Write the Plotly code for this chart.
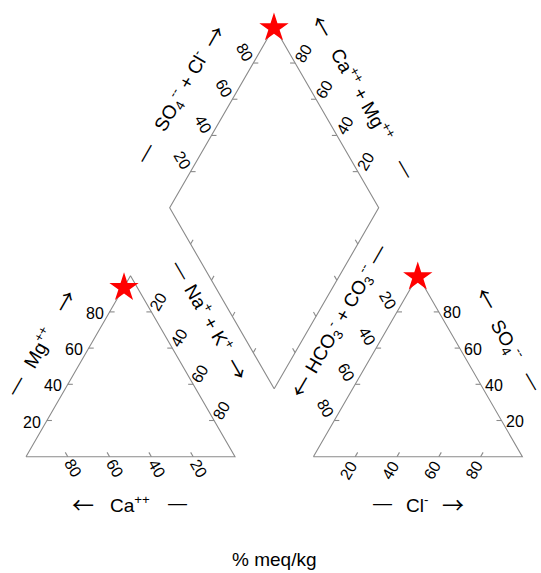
import math
import plotly.graph_objects as go

# sample composition, % meq/kg
ca = [6.4]
mg = [93.4]
na_k = [0.2]
hco3 = [0.4]
cl = [0.3]
so4 = [99.3]

tick_values = [20, 40, 60, 80]

FONT = "Liberation Sans, Arial, sans-serif"
ARROW_FONT = "Noto Sans CJK JP, DejaVu Sans, sans-serif"
LINE = "#8a8a8a"
GAP = 37.5          # gap between the two triangles (units, side = 100)
H = math.sqrt(3) / 2
TICK = 2.4
SCALE = 2.09        # px per unit


def add(p, q):
    return (p[0] + q[0], p[1] + q[1])


def lerp(p0, p1, t):
    return (p0[0] + t * (p1[0] - p0[0]), p0[1] + t * (p1[1] - p0[1]))


# vertices
CA_V, NA_V, MG_V = (0, 0), (100, 0), (50, 100 * H)
HCO3_V, CL_V, SO4_V = (100 + GAP, 0), (200 + GAP, 0), (150 + GAP, 100 * H)
D_B = (100 + GAP / 2, GAP * H)
D_L = add(D_B, (-50, 100 * H))
D_R = add(D_B, (50, 100 * H))
D_T = add(D_L, (50, 100 * H))

# outlines
xs, ys = [], []
for poly in [[CA_V, NA_V, MG_V, CA_V], [HCO3_V, CL_V, SO4_V, HCO3_V],
             [D_B, D_L, D_T, D_R, D_B]]:
    xs += [p[0] for p in poly] + [None]
    ys += [p[1] for p in poly] + [None]

# axes: start (0%), end (100%), tick direction, label angle, label shift
axes = [
    (NA_V, CA_V, (-0.5, H), 60, (5.5, -11.6), True),      # Ca
    (CA_V, MG_V, (1, 0), 0, (-15, -1.5), True),           # Mg
    (MG_V, NA_V, (-1, 0), -60, (7, 10.5), True),          # Na + K
    (HCO3_V, CL_V, (0.5, H), -60, (-6.9, -13.3), True),   # Cl
    (CL_V, SO4_V, (-1, 0), 0, (13.5, -1), True),          # SO4
    (SO4_V, HCO3_V, (1, 0), 60, (-9, 11.7), True),        # HCO3 + CO3
    (D_L, D_T, (1, 0), 60, (-8.3, 10.9), True),           # SO4 + Cl
    (D_R, D_T, (-1, 0), -60, (8, 10), True),              # Ca + Mg
    (D_L, D_B, (0.5, H), 0, (0, 0), False),
    (D_R, D_B, (-0.5, H), 0, (0, 0), False),
]

annotations = []
for p0, p1, tdir, ang, shift, labelled in axes:
    for v in tick_values:
        p = lerp(p0, p1, v / 100)
        q = (p[0] + TICK * tdir[0], p[1] + TICK * tdir[1])
        xs += [p[0], q[0], None]
        ys += [p[1], q[1], None]
        if labelled:
            annotations.append(dict(
                x=p[0], y=p[1], xshift=shift[0], yshift=shift[1], text=str(v),
                textangle=ang, showarrow=False, font=dict(size=16, color="black", family=FONT),
            ))


def edge_text(p0, p1, normal, t, n, text, angle):
    x, y = lerp(p0, p1, t)
    arrow = text in ("→", "←")
    return dict(x=x, y=y, xshift=n * normal[0], yshift=n * normal[1], text=text,
                textangle=angle, showarrow=False,
                font=dict(size=22 if arrow else 19, color="black",
                          family=ARROW_FONT if arrow else FONT))


OUT_L, OUT_R, OUT_D = (-H, 0.5), (H, 0.5), (0, -1)
titles = [
    (CA_V, MG_V, OUT_L, -60, [(0.27, 45, "—"), (0.48, 44.5, "Mg<sup>++</sup>"), (0.74, 45, "→")]),
    (MG_V, NA_V, OUT_R, 60, [(0.10, 47, "—"), (0.36, 47, "Na<sup>+</sup> + K<sup>+</sup>"), (0.64, 47, "→")]),
    (CA_V, NA_V, OUT_D, 0, [(0.273, 46, "←"), (0.498, 47, "Ca<sup>++</sup>"), (0.727, 46, "—")]),
    (HCO3_V, SO4_V, OUT_L, -60, [(0.265, 47, "←"),
                                 (0.637, 45, "HCO<sub>3</sub><sup>-</sup> + CO<sub>3</sub><sup>--</sup>"),
                                 (0.99, 47, "—")]),
    (SO4_V, CL_V, OUT_R, 60, [(0.26, 49.5, "←"), (0.48, 45, "SO<sub>4</sub><sup>--</sup>"), (0.712, 47, "—")]),
    (HCO3_V, CL_V, OUT_D, 0, [(0.329, 46, "—"), (0.496, 47, "Cl<sup>-</sup>"), (0.668, 46, "→")]),
    (D_L, D_T, OUT_L, -60, [(0.17, 48.5, "—"), (0.51, 48.5, "SO<sub>4</sub><sup>--</sup> + Cl<sup>-</sup>"),
                            (0.815, 48.5, "→")]),
    (D_T, D_R, OUT_R, 60, [(0.115, 43, "←"), (0.49, 43, "Ca<sup>++</sup> + Mg<sup>++</sup>"), (0.9, 43, "—")]),
]
for p0, p1, normal, ang, parts in titles:
    for t, n, text in parts:
        annotations.append(edge_text(p0, p1, normal, t, n, text, ang))

annotations.append(dict(
    x=D_B[0], y=(573 - 559) / 573, yref="paper", yanchor="middle", text="% meq/kg",
    showarrow=False, font=dict(size=19, color="black", family=FONT),
))

# sample positions
cat_x, cat_y, an_x, an_y, dia_x, dia_y = [], [], [], [], [], []
for c, m, n, h, l, s in zip(ca, mg, na_k, hco3, cl, so4):
    tc, ta = c + m + n, h + l + s
    cat_x.append(100 * (n + m / 2) / tc)
    cat_y.append(100 * H * m / tc)
    an_x.append(HCO3_V[0] + 100 * (l + s / 2) / ta)
    an_y.append(100 * H * s / ta)
    cm, sc = (c + m) / tc, (s + l) / ta
    dia_x.append(D_B[0] + cm * (D_L[0] - D_B[0]) + sc * (D_R[0] - D_B[0]))
    dia_y.append(D_B[1] + cm * (D_L[1] - D_B[1]) + sc * (D_R[1] - D_B[1]))

fig = go.Figure()
fig.add_trace(go.Scatter(x=xs, y=ys, mode="lines", line=dict(color=LINE, width=1.1),
                         hoverinfo="skip"))
fig.add_trace(go.Scatter(
    x=cat_x + an_x + dia_x, y=cat_y + an_y + dia_y, mode="markers",
    marker=dict(symbol="star", size=22, color="#ff0000", line=dict(width=0)),
))

fig.update_layout(
    width=541, height=573, margin=dict(l=0, r=0, t=0, b=0),
    paper_bgcolor="white", plot_bgcolor="white", showlegend=False,
    annotations=annotations,
)
fig.update_xaxes(range=[-26 / SCALE, (541 - 26) / SCALE], visible=False)
fig.update_yaxes(range=[-(573 - 456.7) / SCALE, 456.7 / SCALE], visible=False)

fig.write_html("out.html", config={"displayModeBar": False},
               post_script="document.body.style.margin = '0';")
